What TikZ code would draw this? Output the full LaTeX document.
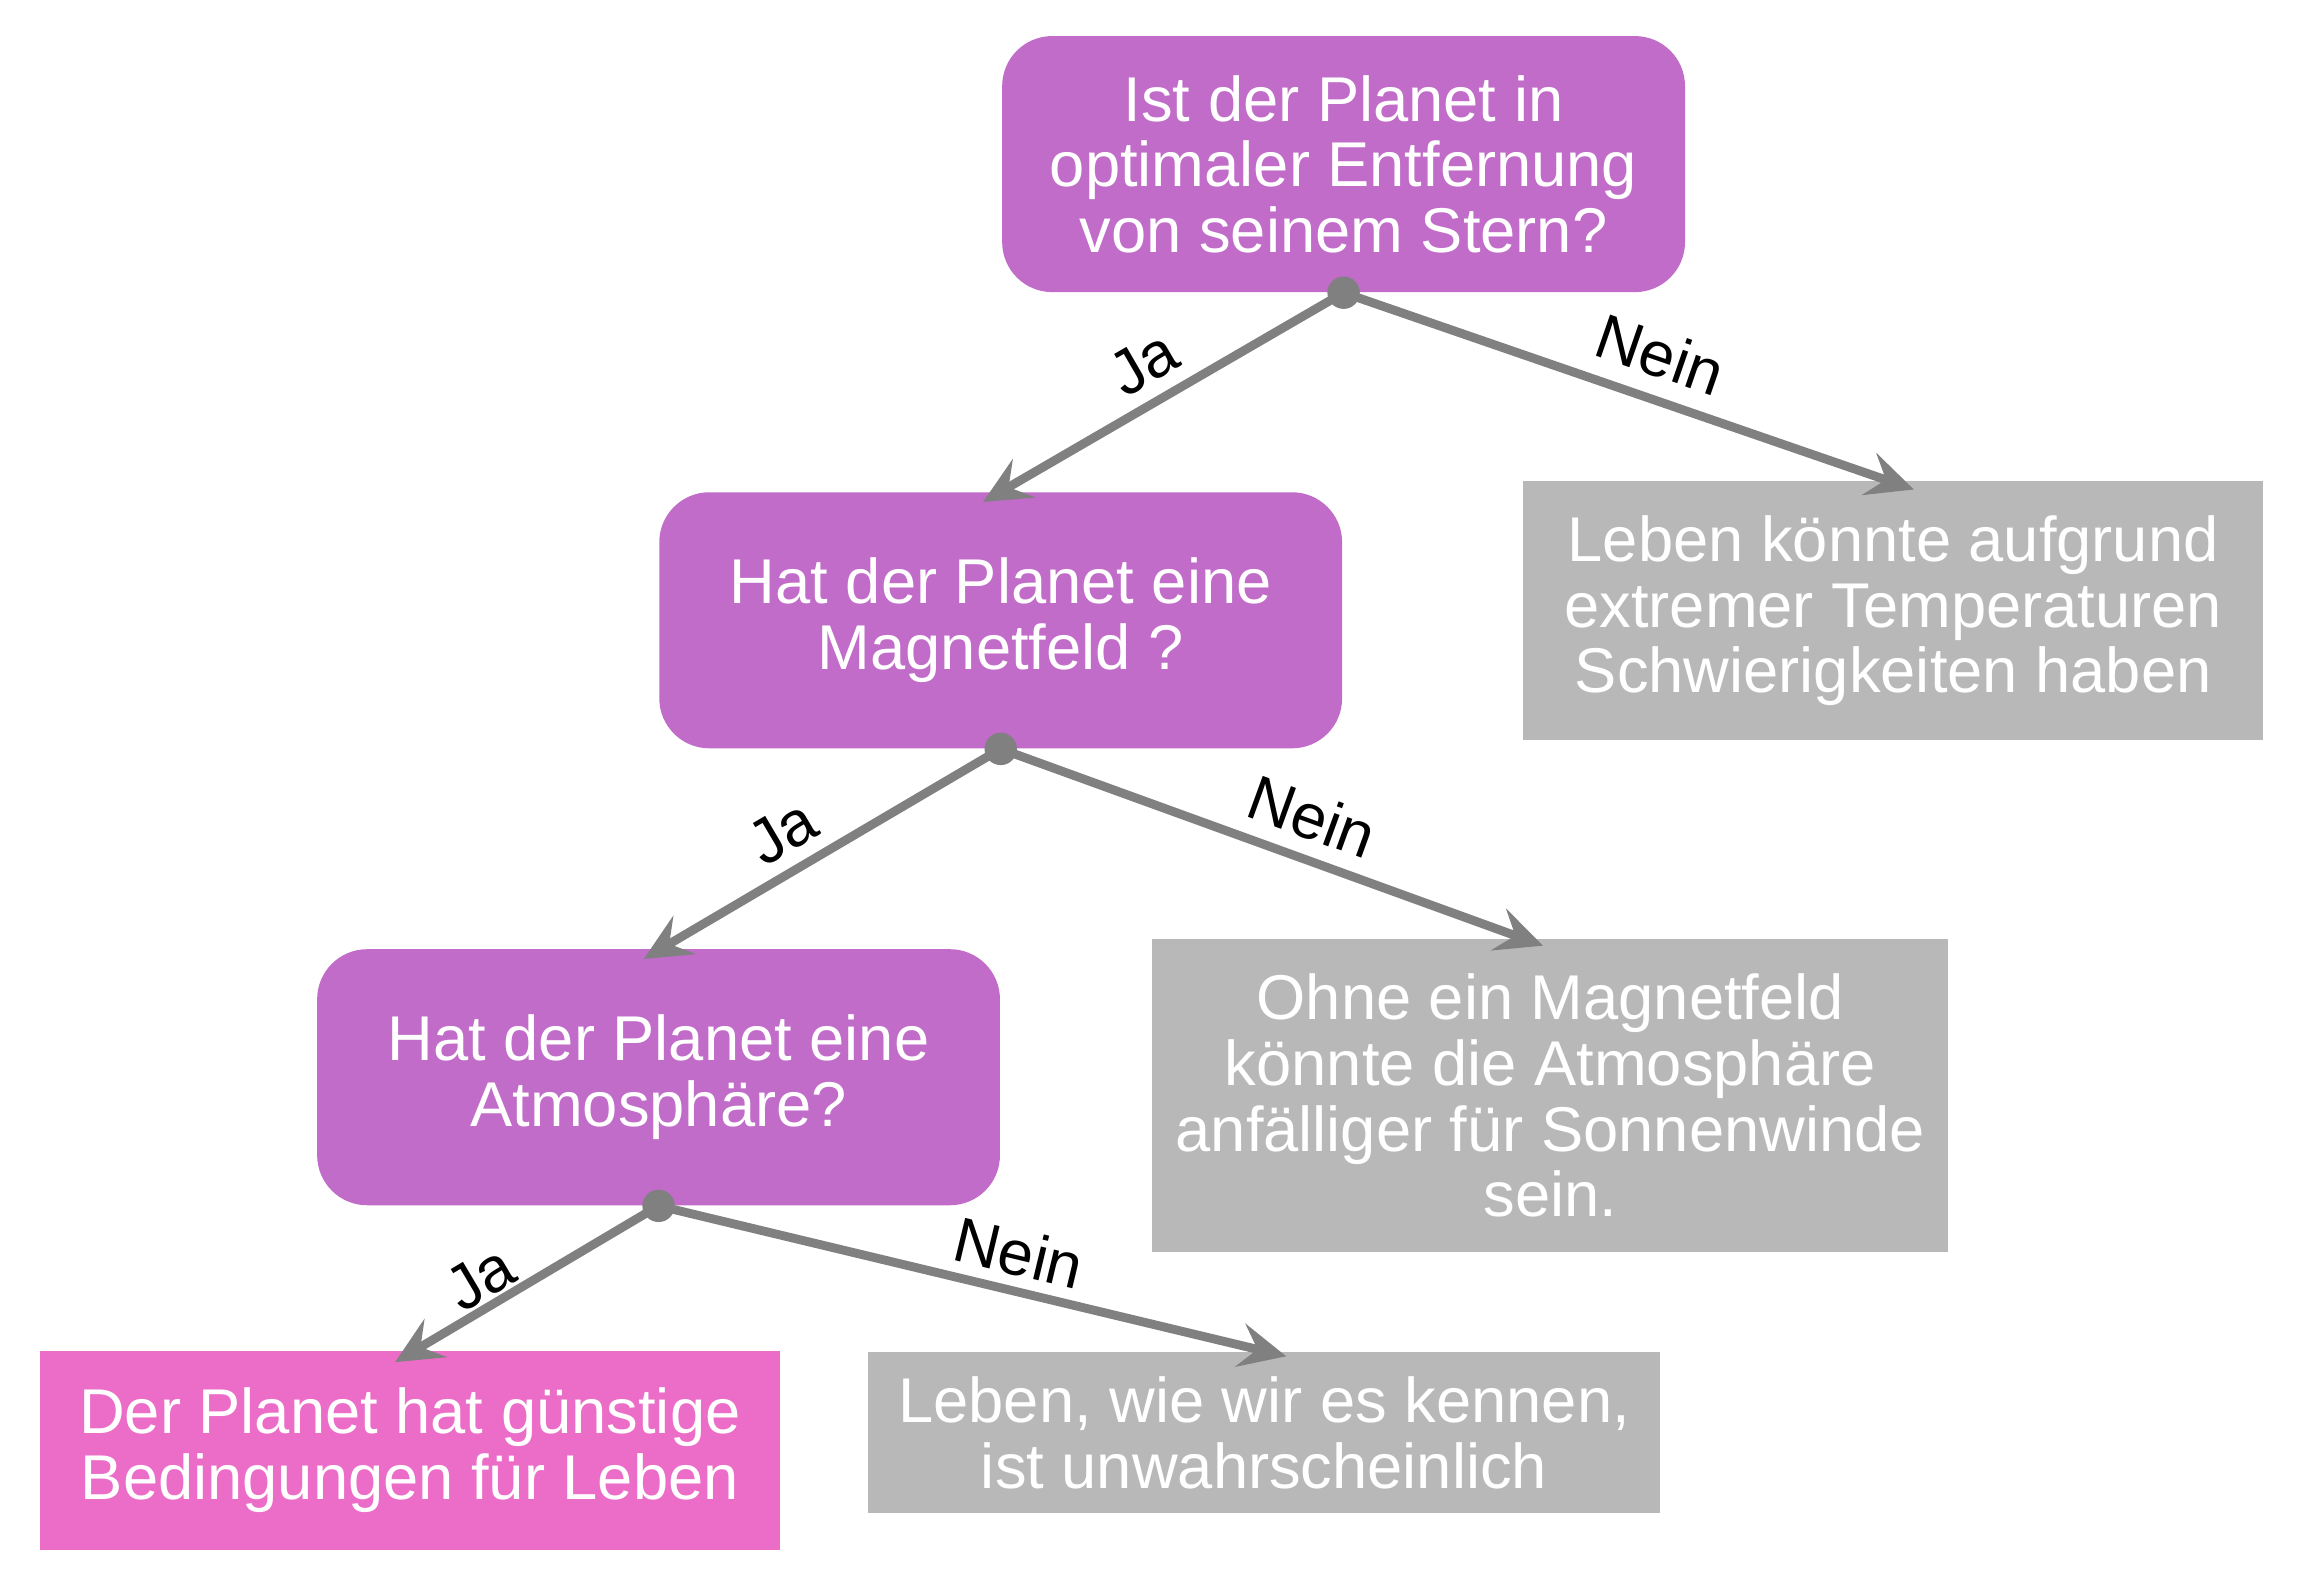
\documentclass[tikz,border=0pt]{standalone}
\usepackage{fontspec}
\setmainfont{Liberation Sans}
\usetikzlibrary{arrows.meta}
\definecolor{qpurple}{HTML}{C06CC8}
\definecolor{qpink}{HTML}{EB6DC8}
\definecolor{qgray}{HTML}{B8B8B8}
\definecolor{qline}{HTML}{808080}
\begin{document}
\begin{tikzpicture}[x=0.5pt,y=-0.5pt,
  boxtext/.style={text=white,align=center,font=\fontsize{21.5}{22.3}\selectfont,inner sep=0pt},
  question/.style={boxtext,fill=qpurple,rounded corners=17pt,minimum width=232pt,minimum height=87pt},
  answer/.style={boxtext,fill=qgray},
  good/.style={boxtext,fill=qpink},
  conn/.style={draw=qline,line width=3pt,-{Stealth[length=16pt,width=15pt,inset=6pt]}},
  elabel/.style={font=\fontsize{21.5}{23}\selectfont,text=black,sloped,above,pos=0.5,inner sep=4.5pt},
  dot/.style={circle,fill=qline,inner sep=0pt,minimum size=11pt}]
\useasboundingbox (0,0) rectangle (1567,1082.5);
\node[question] (A) at (913,111.5) {Ist der Planet in\\optimaler Entfernung\\von seinem Stern?};
\node[question] (B) at (680,421.5) {Hat der Planet eine\\Magnetfeld ?};
\node[question] (C) at (447.5,732) {Hat der Planet eine\\Atmosphäre?};
\node[good,minimum width=251.5pt,minimum height=67.5pt] (D) at (278.5,985.5) {Der Planet hat günstige\\Bedingungen für Leben};
\node[answer,minimum width=251.5pt,minimum height=88pt] (E) at (1286.5,415) {Leben könnte aufgrund\\extremer Temperaturen\\Schwierigkeiten haben};
\node[answer,minimum width=270.5pt,minimum height=106.5pt] (F) at (1053.5,744.5) {Ohne ein Magnetfeld\\könnte die Atmosphäre\\anfälliger für Sonnenwinde\\sein.};
\node[answer,minimum width=269pt,minimum height=54.5pt] (G) at (859,973.5) {Leben, wie wir es kennen,\\ist unwahrscheinlich};
\node[dot] (dA) at (A.south) {};
\node[dot] (dB) at (B.south) {};
\node[dot] (dC) at (C.south) {};
\draw[conn] (dA.center) -- ([xshift=-6pt,yshift=-3.5pt]B.north) node[elabel,pos=0.5,inner sep=4.3pt] {Ja};
\draw[conn] (dA.center) -- ([xshift=7pt,yshift=-3pt]E.north) node[elabel,pos=0.53,inner sep=5.9pt] {Nein};
\draw[conn] (dB.center) -- ([xshift=-5pt,yshift=-3.5pt]C.north) node[elabel,pos=0.557,inner sep=4.3pt] {Ja};
\draw[conn] (dB.center) -- ([xshift=-2.5pt,yshift=-2.5pt]F.north) node[elabel,pos=0.548,inner sep=5.2pt] {Nein};
\draw[conn] (dC.center) -- ([xshift=-5pt,yshift=-4pt]D.north) node[elabel,pos=0.62,inner sep=0.9pt] {Ja};
\draw[conn] (dC.center) -- ([xshift=7.5pt,yshift=-1.5pt]G.north) node[elabel,pos=0.56,inner sep=3.7pt] {Nein};
\end{tikzpicture}
\end{document}
